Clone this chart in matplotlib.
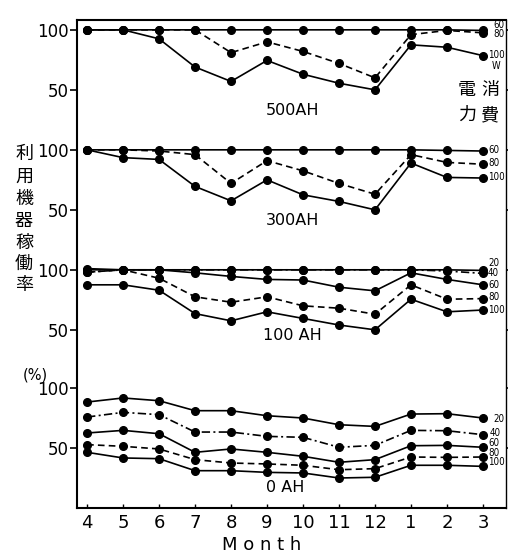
import matplotlib
matplotlib.use("Agg")
import matplotlib.pyplot as plt

months = ["4", "5", "6", "7", "8", "9", "10", "11", "12", "1", "2", "3"]

# 500 AH
ah500_w60 = [100, 100, 100, 100, 100, 100, 100, 100, 100, 100, 100, 99.5]
ah500_w80 = [100, 100, 100, 100, 81, 90, 82, 72, 60, 96, 99.5, 97.5]
ah500_w100 = [100, 100, 92.5, 69, 57, 74.5, 63, 55.5, 50, 87.5, 85.5, 78.5]

# 300 AH
ah300_w60 = [100, 100, 100, 100, 100, 100, 100, 100, 100, 100, 99.5, 99]
ah300_w80 = [100, 100, 99, 96, 72, 91, 82.5, 72, 63, 96, 89.5, 88]
ah300_w100 = [100, 93.5, 92, 69.5, 57.5, 75, 62.5, 57, 50, 89, 77, 76.5]

# 100 AH
ah100_w20 = [101, 100, 100, 100, 100, 100, 100, 100, 100, 100, 100, 99.5]
ah100_w40 = [98, 100, 100, 100, 100, 100, 100, 100, 100, 100, 99, 97]
ah100_w60 = [100, 100, 100, 97.5, 94.5, 92, 91.5, 85.5, 82.5, 97.5, 92, 87.5]
ah100_w80 = [98, 100, 93, 77.5, 73, 77.5, 70, 68, 63, 87.5, 75.5, 76]
ah100_w100 = [87.5, 87.5, 83, 63.5, 57.5, 65, 59.5, 54, 50, 75.5, 65, 66.5]

# 0 AH
ah0_w20 = [88.3, 91.7, 89.4, 81.1, 81.1, 76.9, 75, 69.4, 68, 78.3, 78.6, 75]
ah0_w40 = [75.8, 79.7, 77.8, 63.3, 63.3, 59.7, 58.9, 50.6, 52.2, 64.7, 64.4, 61.1]
ah0_w60 = [62.5, 64.7, 61.9, 46.4, 49.2, 46.4, 43.1, 38.1, 40.3, 51.9, 52.2, 50.6]
ah0_w80 = [52.8, 51.4, 49.2, 40.3, 37.5, 36.7, 35.6, 31.9, 32.8, 42.5, 42.2, 42.5]
ah0_w100 = [46.4, 41.7, 41.1, 31.1, 31.1, 29.7, 29.2, 25, 25.6, 35.6, 35.6, 34.7]

panel_names = ["500AH", "300AH", "100 AH", "0 AH"]
panel_offsets = [298.5, 198.5, 98.5, 0]

W, H = 508, 555
fig = plt.figure(figsize=(W / 100, H / 100), dpi=100)
ax = fig.add_axes([77 / W, (H - 508) / H, (506 - 77) / W, (508 - 20) / H])

x = list(range(len(months)))
styles = {"solid": "-", "dash": (0, (4, 2.5)), "dashdot": (0, (5, 2, 1.2, 2))}

panels = [
    [(ah500_w60, "solid"), (ah500_w80, "dash"), (ah500_w100, "solid")],
    [(ah300_w60, "solid"), (ah300_w80, "dash"), (ah300_w100, "solid")],
    [(ah100_w20, "solid"), (ah100_w40, "dashdot"), (ah100_w60, "solid"),
     (ah100_w80, "dash"), (ah100_w100, "solid")],
    [(ah0_w20, "solid"), (ah0_w40, "dashdot"), (ah0_w60, "solid"),
     (ah0_w80, "dash"), (ah0_w100, "solid")],
]

for series, off in zip(panels, panel_offsets):
    for vals, st in series:
        ax.plot(x, [v + off for v in vals], color="black", lw=1.2,
                linestyle=styles[st], marker="o", ms=5.5,
                markerfacecolor="black", markeredgecolor="black")

ax.set_xlim(-0.28, 11.64)
ax.set_ylim(0, 406.7)

yt = []
ytl = []
for off in panel_offsets:
    yt += [off + 50, off + 100]
    ytl += ["50", "100"]
ax.set_yticks(yt)
ax.set_yticklabels(ytl, fontsize=12)
ax.tick_params(axis="y", direction="out", length=5, width=1.2, pad=1,
               right=True, labelright=False)
ax.set_xticks(x)
ax.set_xticklabels(months, fontsize=13)
ax.tick_params(axis="x", direction="in", length=3, width=1, pad=4)
for sp in ax.spines.values():
    sp.set_linewidth(1.5)
ax.spines["right"].set_linewidth(1.0)

# panel names
name_pos = [(5.7, 110), (5.7, 220), (5.7, 335), (5.5, 487)]
for name, (xx, py) in zip(panel_names, name_pos):
    ax.text(xx, (508 - py) / 1.2, name, fontsize=11.5, ha="center", va="center")

# right labels (W): text, pixel x, pixel y
right_labels = [
    ("60", 493, 25), ("80", 493, 34), ("100", 488, 55), ("W", 492, 66),
    ("60", 488, 150), ("80", 488, 163), ("100", 488, 177),
    ("20", 488, 263), ("40", 488, 273), ("60", 488, 285), ("80", 488, 297),
    ("100", 488, 310),
    ("20", 493, 419), ("40", 490, 433), ("60", 488, 443), ("80", 488, 452.5),
    ("100", 488, 462),
]
for txt, px, py in right_labels:
    fig.text(px / W, 1 - py / H, txt, fontsize=7, fontstretch="condensed",
             ha="left", va="center")

cjk = ["Noto Sans CJK JP", "DejaVu Sans"]
for ch, (px, py) in zip("電消力費", [(467, 90), (490, 90), (467, 115), (490, 115)]):
    fig.text(px / W, 1 - py / H, ch, family=cjk, fontsize=13,
             ha="center", va="center")

ylab = "利用機器稼働率"
ys = [154, 177, 199, 221, 243, 264, 285]
for ch, py in zip(ylab, ys):
    fig.text(24 / W, 1 - py / H, ch, family=cjk, fontsize=13,
             ha="center", va="center")
fig.text(35 / W, 1 - 375 / H, "(%)", fontsize=10.5, ha="center", va="center")

fig.text(262 / W, 1 - 545 / H, "M o n t h", fontsize=13, ha="center",
         va="center")

fig.savefig("out.png", dpi=100)
